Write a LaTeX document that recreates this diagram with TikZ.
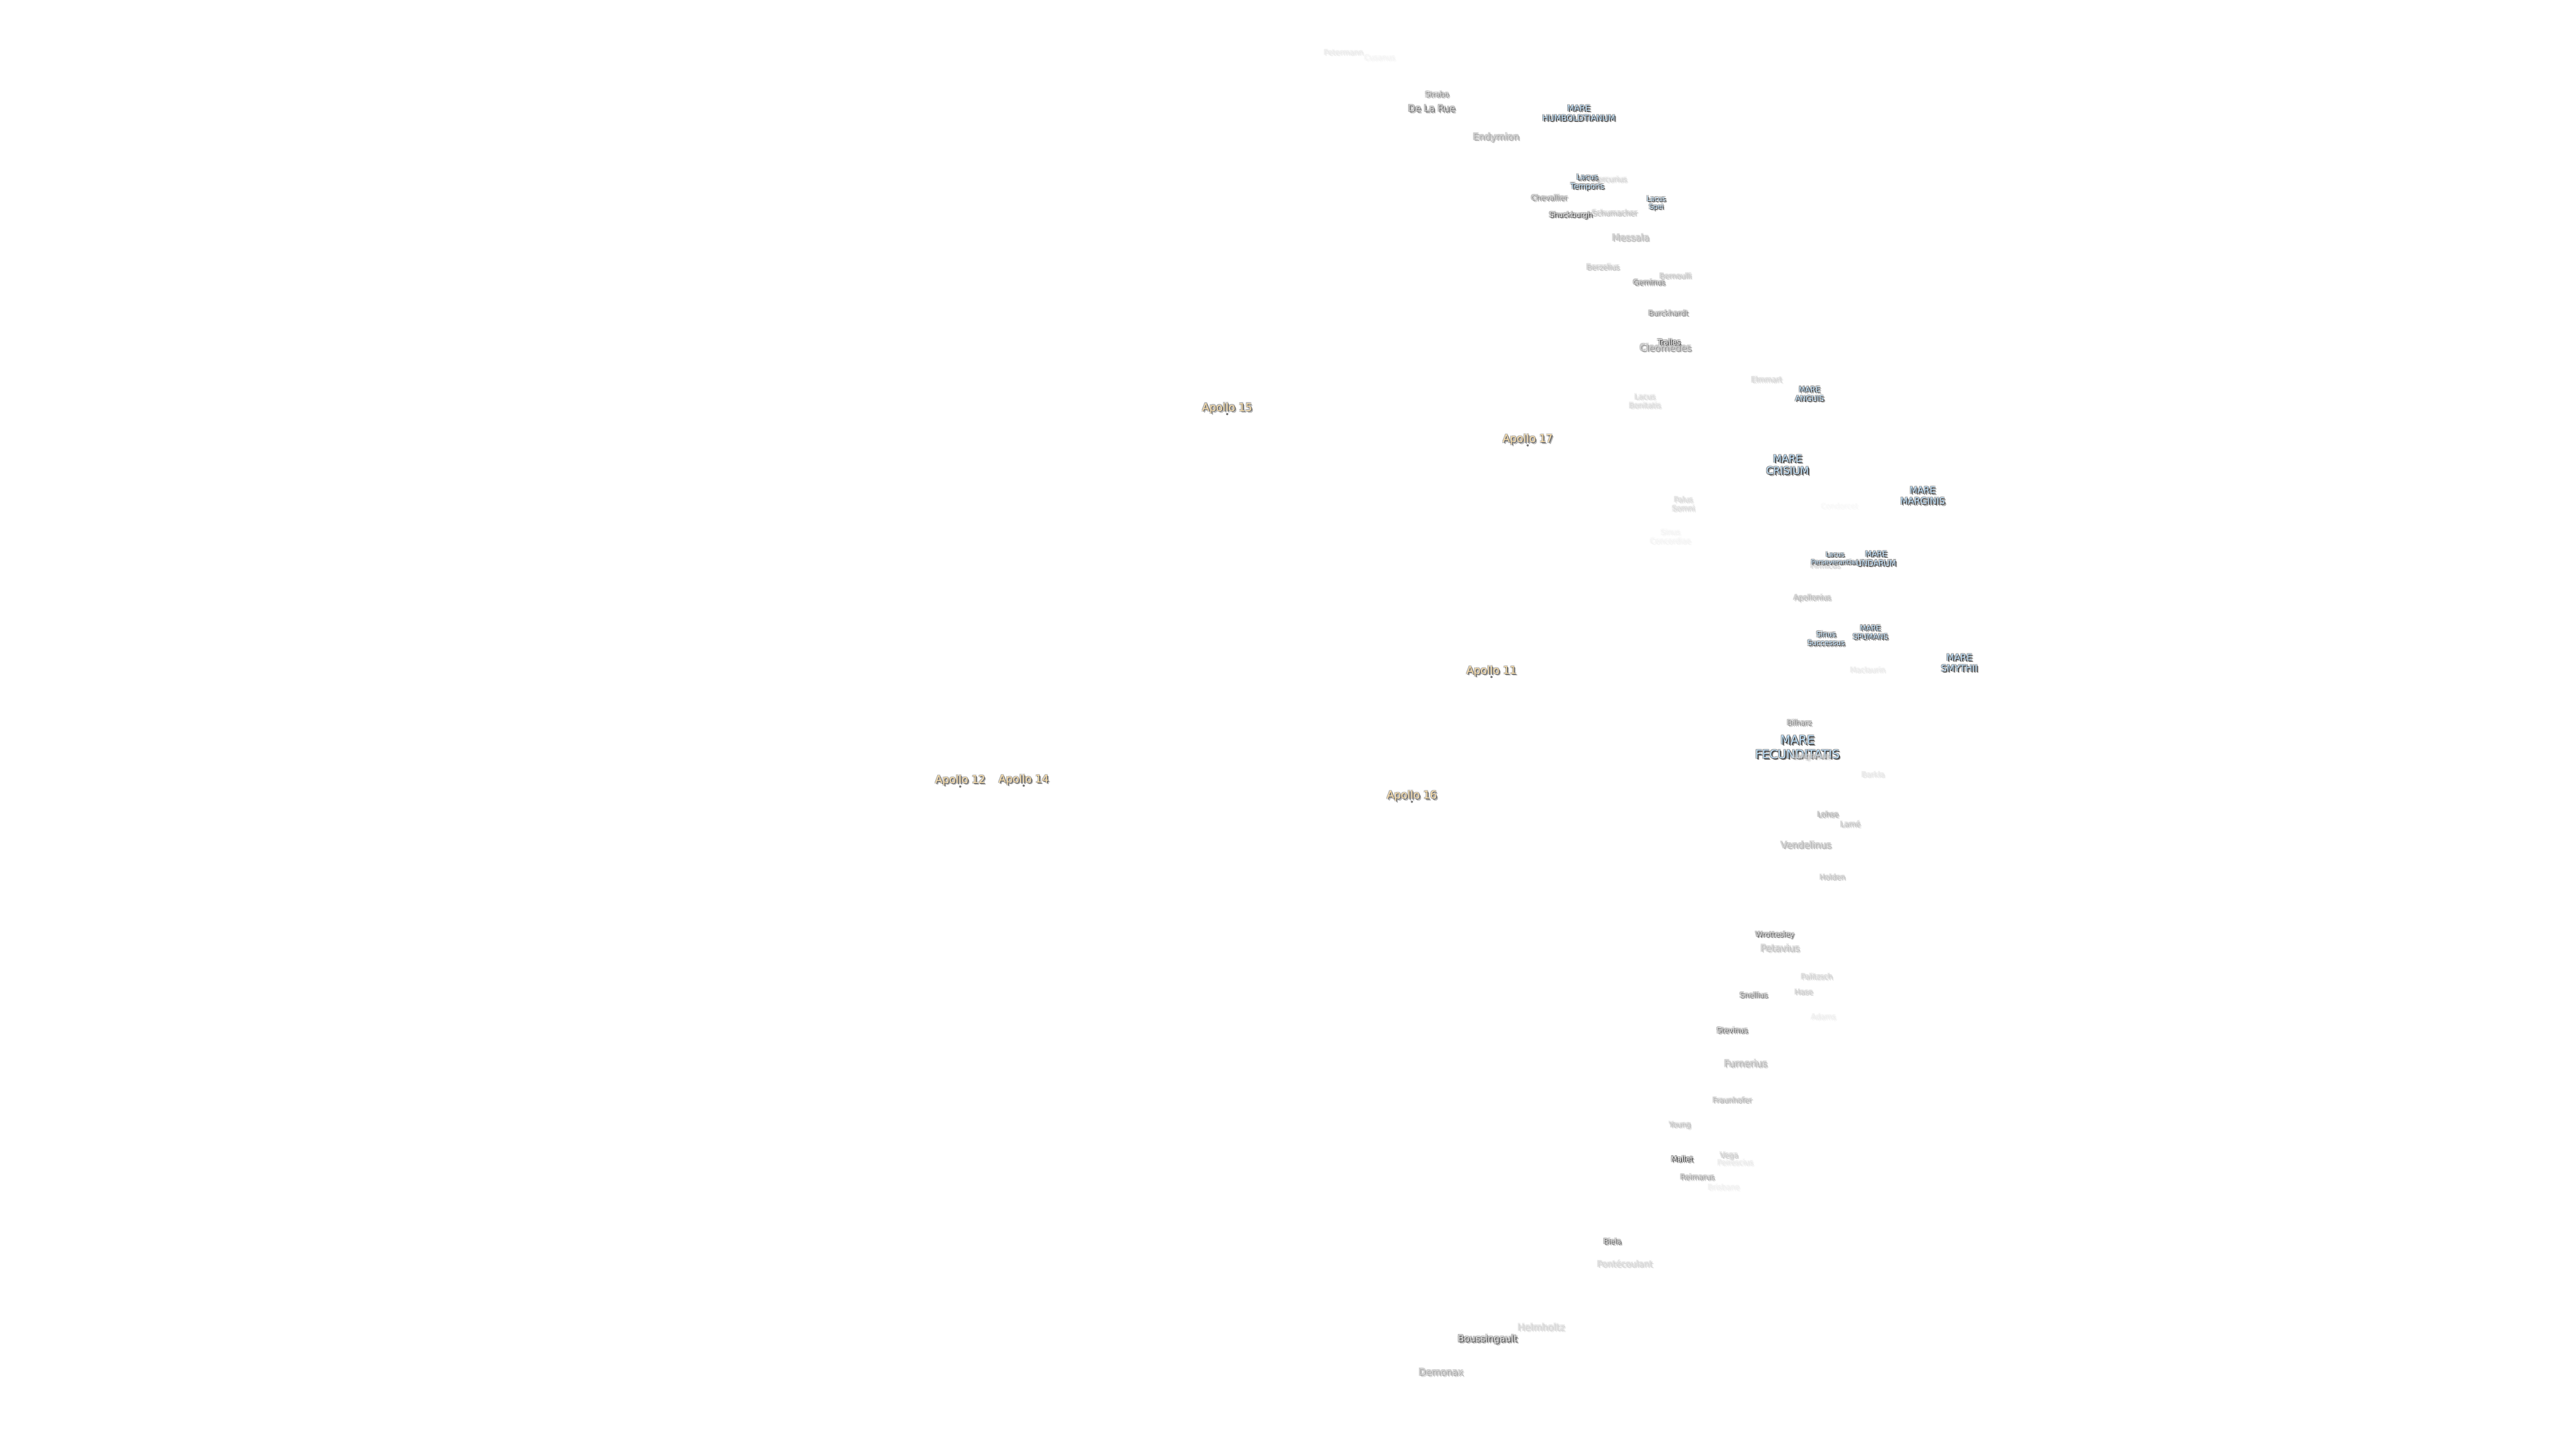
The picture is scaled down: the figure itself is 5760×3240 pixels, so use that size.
\documentclass[tikz,border=0pt]{standalone}
\usepackage{fontspec}
\setmainfont{DejaVu Sans}
\usepackage{xcolor}
\definecolor{marecore}{HTML}{BBDDF7}
\definecolor{apollocore}{HTML}{F8DCA8}
\newcommand{\halolayer}[4]{\rlap{\kern#1\raise#2\hbox{\color{#3}\begin{tabular}{@{}c@{}}#4\end{tabular}}}}
\newcommand{\halo}[1]{\leavevmode
  \halolayer{.55pt}{-.55pt}{inksoft}{#1}%
  \halolayer{-.2pt}{.2pt}{inksoft}{#1}%
  \halolayer{-.2pt}{-.2pt}{inksoft}{#1}%
  \halolayer{.2pt}{.2pt}{inksoft}{#1}%
  \halolayer{.3pt}{-.3pt}{inkedge}{#1}%
  \hbox{\color{inkcore}\begin{tabular}{@{}c@{}}#1\end{tabular}}}
\tikzset{
  setink/.code 2 args={%
    \pgfmathsetmacro\softtone{.45*#1}%
    \pgfmathsetmacro\edgetone{.85*#1}%
    \colorlet{inksoft}{black!\softtone!white}%
    \colorlet{inkedge}{black!\edgetone!white}%
    \colorlet{inkcore}{#2}},
  setgrey/.code={%
    \pgfmathsetmacro\coretone{.008*#1*(100-#1)}%
    \colorlet{inkgrey}{black!\coretone!white}},
  setlead/.code={\pgfmathsetmacro\marelead{1.2*#1}},
  crater/.style={inner sep=0pt, font=\fontsize{2.3}{2.8}\selectfont, setgrey={#1}, setink={#1}{inkgrey}},
  bigcrater/.style={crater={#1}, font=\fontsize{2.95}{3.5}\selectfont},
  mare/.style={inner sep=0pt, setlead={#1}, font=\fontsize{#1}{\marelead}\selectfont, setink={90}{marecore}},
  apollo/.style={inner sep=0pt, font=\fontsize{3.4}{4}\selectfont, setink={70}{apollocore}},
  landing/.style={circle, inner sep=0pt, minimum size=5*0.005cm, fill=black!55},
}
\begin{document}
\begin{tikzpicture}[x=0.005cm, y=-0.005cm]
  \useasboundingbox (0,-4) rectangle (5760,3236);
  %--- Faint craters, north
  \node[crater=10] (petermann) at (3004,116) {\halo{Petermann}};
  \node[crater=5] (cusanus) at (3085,128) {\halo{Cusanus}};
  \node[crater=20] (mercurius) at (3598,400) {\halo{Mercurius}};
  \node[crater=30] (schumacher) at (3610,475) {\halo{Schumacher}};
  %--- Craters, north
  \node[crater=55] (strabo) at (3213,210) {\halo{Strabo}};
  \node[bigcrater=65] (delarue) at (3201,242) {\halo{De La Rue}};
  \node[bigcrater=40] (endymion) at (3345,305) {\halo{Endymion}};
  \node[crater=55] (chevallier) at (3464,441) {\halo{Chevallier}};
  \node[crater=80] (shuckburgh) at (3512,479) {\halo{Shuckburgh}};
  \node[bigcrater=32] (messala) at (3646,531) {\halo{Messala}};
  \node[crater=30] (berzelius) at (3584,596) {\halo{Berzelius}};
  \node[crater=28] (bernoulli) at (3746,616) {\halo{Bernoulli}};
  \node[crater=60] (geminus) at (3687,630) {\halo{Geminus}};
  \node[crater=55] (burckhardt) at (3730,699) {\halo{Burckhardt}};
  \node[bigcrater=50] (cleomedes) at (3724,777) {\halo{Cleomedes}};
  \node[crater=90] (tralles) at (3732,764) {\halo{Tralles}};
  \node[crater=20] (elmmart) at (3950,848) {\halo{Elmmart}};
  \node[crater=18] (bonitatis) at (3678,896) {\halo{Lacus\\Bonitatis}};
  \node[crater=18] (somni) at (3764,1126) {\halo{Palus\\Somni}};
  \node[crater=3] (condorcet) at (4113,1131) {\halo{Condorcet}};
  \node[crater=5] (concordiae) at (3735,1199) {\halo{Sinus\\Concordiae}};
  \node[crater=20] (firmicus) at (4081,1263) {\halo{Firmicus}};
  \node[crater=35] (apollonius) at (4052,1335) {\halo{Apollonius}};
  \node[crater=10] (maclaurin) at (4176,1497) {\halo{Maclaurin}};
  %--- Maria and lakes
  \node[mare=2.56] (humboldtianum) at (3530,252) {\halo{MARE\\HUMBOLDTIANUM}};
  \node[mare=2.38] (temporis) at (3549,405) {\halo{Lacus\\Temporis}};
  \node[mare=2.1] (spei) at (3703,452) {\halo{Lacus\\Spei}};
  \node[mare=2.36] (anguis) at (4046,880) {\halo{MARE\\ANGUIS}};
  \node[mare=3.24] (crisium) at (3997,1039) {\halo{MARE\\CRISIUM}};
  \node[mare=2.85] (marginis) at (4299,1108) {\halo{MARE\\MARGINIS}};
  \node[mare=2.04] (perseverantiae) at (4103,1247) {\halo{Lacus\\Perseverantiae}};
  \node[mare=2.43] (undarum) at (4195,1248) {\halo{MARE\\UNDARUM}};
  \node[mare=2.3] (successus) at (4083,1427) {\halo{Sinus\\Successus}};
  \node[mare=2.28] (spumans) at (4182,1413) {\halo{MARE\\SPUMANS}};
  \node[mare=2.87] (smythii) at (4381,1482) {\halo{MARE\\SMYTHII}};
  \node[mare=3.77] (fecunditatis) at (4019,1671) {\halo{MARE\\FECUNDITATIS}};
  %--- Craters, south
  \node[crater=55] (bilharz) at (4023,1615) {\halo{Bilharz}};
  \node[crater=40, text opacity=.6] (langrenus) at (4050,1690) {\halo{Langrenus}};
  \node[crater=12] (barkla) at (4188,1731) {\halo{Barkla}};
  \node[crater=40] (lohse) at (4087,1820) {\halo{Lohse}};
  \node[crater=30] (lame) at (4137,1842) {\halo{Lamé}};
  \node[bigcrater=35] (vendelinus) at (4038,1889) {\halo{Vendelinus}};
  \node[crater=30] (holden) at (4097,1960) {\halo{Holden}};
  \node[crater=70] (wrottesley) at (3968,2088) {\halo{Wrottesley}};
  \node[bigcrater=30] (petavius) at (3980,2120) {\halo{Petavius}};
  \node[crater=22] (palitzsch) at (4062,2183) {\halo{Palitzsch}};
  \node[crater=25] (hase) at (4033,2217) {\halo{Hase}};
  \node[crater=60] (snellius) at (3921,2224) {\halo{Snellius}};
  \node[crater=8] (adams) at (4077,2273) {\halo{Adams}};
  \node[crater=70] (stevinus) at (3873,2303) {\halo{Stevinus}};
  \node[bigcrater=35] (furnerius) at (3903,2378) {\halo{Furnerius}};
  \node[crater=35] (fraunhofer) at (3873,2459) {\halo{Fraunhofer}};
  \node[crater=30] (young) at (3756,2514) {\halo{Young}};
  \node[crater=10] (peirescius) at (3880,2599) {\halo{Peirescius}};
  \node[crater=25] (vega) at (3866,2582) {\halo{Vega}};
  \node[crater=90] (mallet) at (3761,2591) {\halo{Mallet}};
  \node[crater=7] (brisbane) at (3854,2654) {\halo{Brisbane}};
  \node[crater=45] (reimarus) at (3795,2631) {\halo{Reimarus}};
  \node[crater=70] (biela) at (3605,2775) {\halo{Biela}};
  \node[crater=20, font=\fontsize{2.7}{3.2}\selectfont] (pontecoulant) at (3633,2826) {\halo{Pontécoulant}};
  \node[bigcrater=20] (helmholtz) at (3446,2968) {\halo{Helmholtz}};
  \node[bigcrater=75] (boussingault) at (3326,2993) {\halo{Boussingault}};
  \node[bigcrater=40] (demonax) at (3222,3068) {\halo{Demonax}};
  %--- Landing sites
  \node[apollo] (apollotwelve) at (2147,1743) {\halo{Apollo 12}};
  \node[landing] (sitetwelve) at (2147,1755) {};
  \node[apollo] (apollofourteen) at (2289,1742) {\halo{Apollo 14}};
  \node[landing] (sitefourteen) at (2289,1753) {};
  \node[apollo] (apollofifteen) at (2744,911) {\halo{Apollo 15}};
  \node[landing] (sitefifteen) at (2744,922) {};
  \node[apollo] (apolloseventeen) at (3416,981) {\halo{Apollo 17}};
  \node[landing] (siteseventeen) at (3416,992) {};
  \node[apollo] (apolloeleven) at (3335,1499) {\halo{Apollo 11}};
  \node[landing] (siteeleven) at (3335,1510) {};
  \node[apollo] (apollosixteen) at (3157,1778) {\halo{Apollo 16}};
  \node[landing] (sitesixteen) at (3157,1789) {};
\end{tikzpicture}
\end{document}
